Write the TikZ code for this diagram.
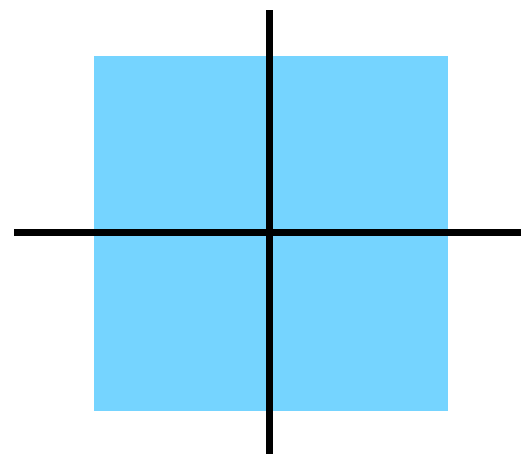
\documentclass[tikz,border=0pt]{standalone}
\definecolor{sqblue}{RGB}{117,212,255}
\begin{document}
\begin{tikzpicture}[x=1pt,y=-1pt,axisline/.style={draw=black,line width=7pt}]
\useasboundingbox (0,0) rectangle (521,454);
\fill[sqblue] (93.5,56) rectangle (448.3,410.5);
\coordinate (vt) at (269.7,10.5);
\coordinate (vb) at (269.7,454);
\coordinate (hl) at (14,232);
\coordinate (hr) at (521,232);
\draw[axisline] (vt) -- (vb);
\draw[axisline] (hl) -- (hr);
\end{tikzpicture}
\end{document}
